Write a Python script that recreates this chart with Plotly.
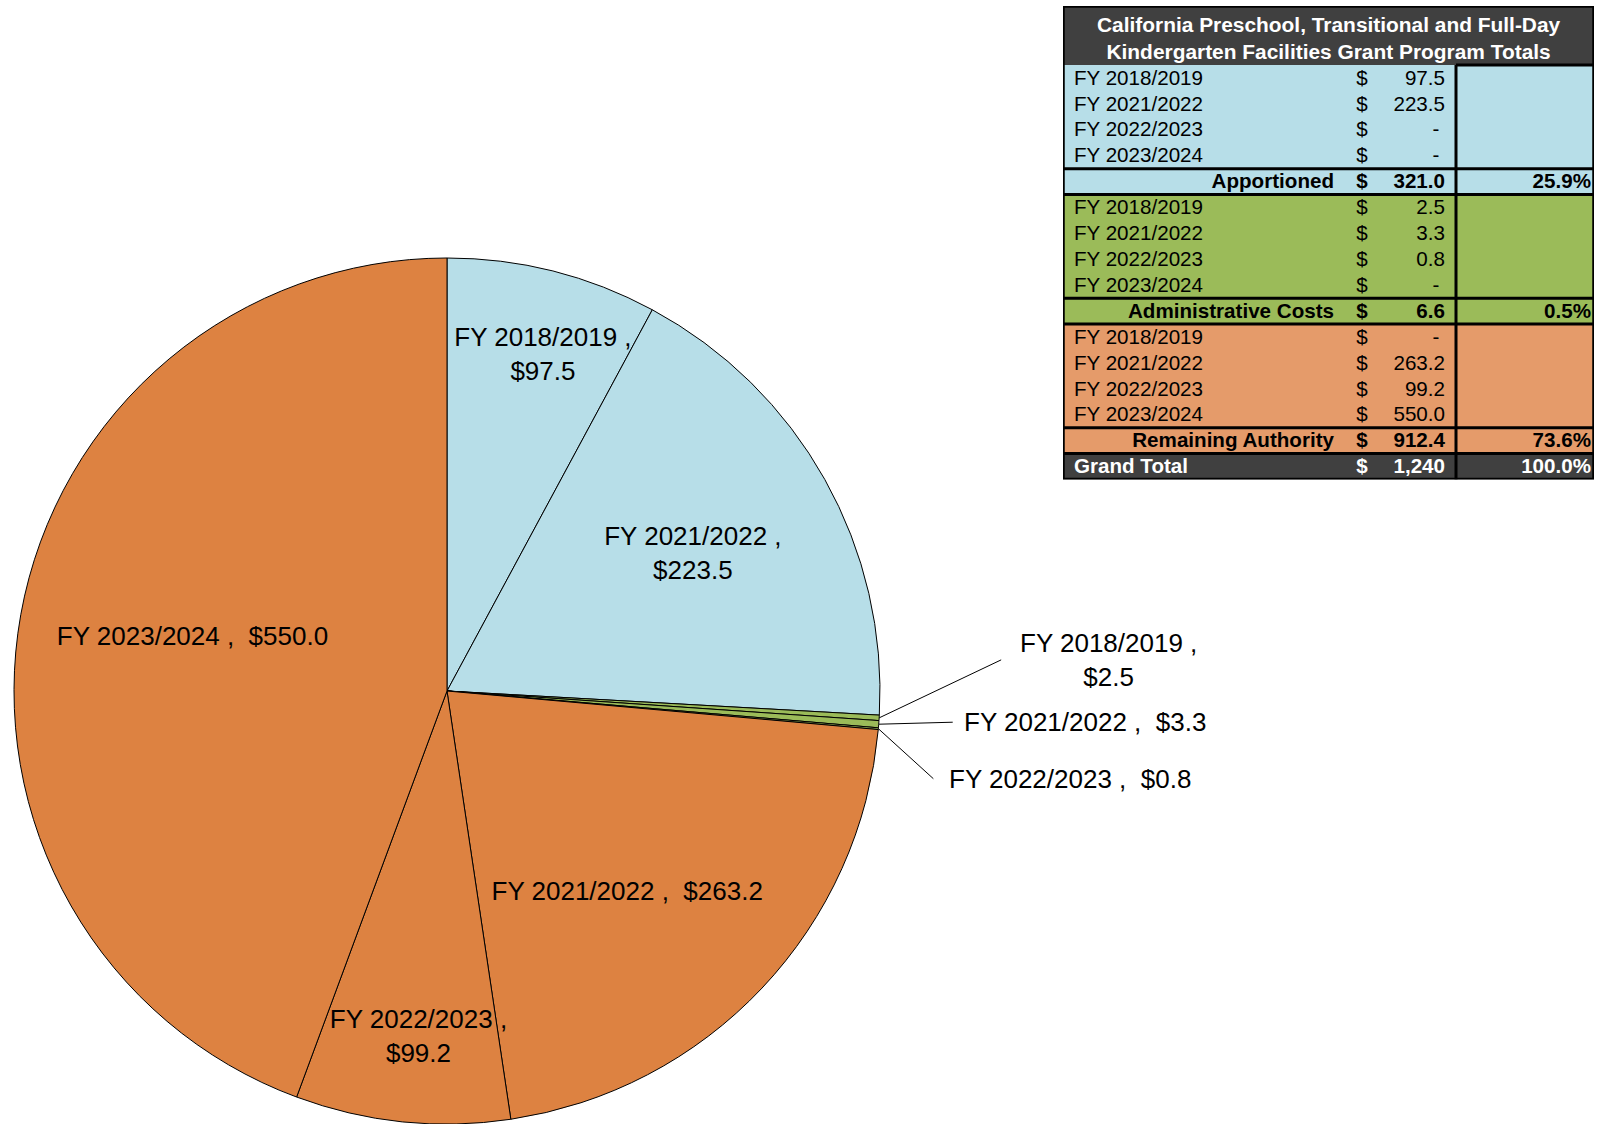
import math
import plotly.graph_objects as go

# ---------------- data ----------------
fiscal_years = ["FY 2018/2019", "FY 2021/2022", "FY 2022/2023", "FY 2023/2024"]
apportioned = [97.5, 223.5, 0.0, 0.0]
administrative_costs = [2.5, 3.3, 0.8, 0.0]
remaining_authority = [0.0, 263.2, 99.2, 550.0]
group_names = ["Apportioned", "Administrative Costs", "Remaining Authority"]
grand_total_label = "Grand Total"
table_title = "California Preschool, Transitional and Full-Day<br>Kindergarten Facilities Grant Program Totals"

# ---------------- styles ----------------
W, H = 1605, 1124
FONT = "Liberation Sans, Arial, sans-serif"
pie_colors = ["#B7DEE8", "#9BBB59", "#DD8241"]
table_colors = ["#B7DEE8", "#9BBB59", "#E59B6A"]
dark = "#404040"
pie_font = 26
table_font = 20.6
title_font = 20.9

groups = [apportioned, administrative_costs, remaining_authority]

# ---------------- pie ----------------
slice_ids, slice_vals, slice_cols, slice_fy = [], [], [], []
for g, vals in enumerate(groups):
    for fy, v in zip(fiscal_years, vals):
        if v > 0:
            slice_ids.append(f"{group_names[g]} {fy}")
            slice_vals.append(v)
            slice_cols.append(pie_colors[g])
            slice_fy.append(fy)

total = sum(slice_vals)
# label layout per slice: (two lines?, blank line before, blank line after, lead pad, trail pad)
label_layout = [
    (True, False, False, 3, 0),
    (True, False, False, 0, 0),
    (True, False, False, 0, 0),
    (False, False, False, 0, 0),
    (False, False, False, 0, 0),
    (False, True, False, 0, 4),
    (True, False, False, 2, 0),
    (False, False, True, 0, 11),
]
NB = "\u00a0"
slice_text = []
for fy, v, (tl, before, after, lead, trail) in zip(slice_fy, slice_vals, label_layout):
    l1 = f"{fy} ,"
    l2 = f"${v:.1f}"
    if tl:
        t = NB * lead + l1 + NB * trail + "<br>" + NB * lead + l2 + NB * trail
    else:
        t = NB * lead + l1 + NB + NB + l2 + NB * trail
    if before:
        t = NB + "<br>" + t
    if after:
        t = t + "<br>" + NB
    slice_text.append(t)
# plain label text for the leader-line labels
plain_text = [f"{fy} ,{'<br>' if lay[0] else NB + NB}${v:.1f}"
              for fy, v, lay in zip(slice_fy, slice_vals, label_layout)]
is_small = [v / total < 0.01 for v in slice_vals]
textpos = ["none" if s else "inside" for s in is_small]

dom_x = [14 / W, 880 / W]
dom_y = [0.0, 1 - 258 / H]

fig = go.Figure()
fig.add_trace(go.Pie(
    labels=slice_ids, values=slice_vals, text=slice_text,
    texttemplate="%{text}", textposition=textpos,
    insidetextorientation="horizontal",
    sort=False, direction="clockwise", rotation=0,
    marker=dict(colors=slice_cols, line=dict(color="black", width=1)),
    textfont=dict(family=FONT, size=pie_font, color="black"),
    insidetextfont=dict(family=FONT, size=pie_font, color="black"),
    domain=dict(x=dom_x, y=dom_y),
    showlegend=False, hoverinfo="skip",
))

# leader-line labels for the tiny slices, anchored at the slice edge
cx = (dom_x[0] + dom_x[1]) / 2 * W
cy = (1 - (dom_y[0] + dom_y[1]) / 2) * H
r = min((dom_x[1] - dom_x[0]) * W, (dom_y[1] - dom_y[0]) * H) / 2
small_offsets = [(122, -58, 18), (74, -2, 10), (55, 50, 15)]
annotations = []
cum = 0.0
k = 0
for i, v in enumerate(slice_vals):
    a = (cum + v / 2) / total * 2 * math.pi
    cum += v
    if is_small[i]:
        px = cx + r * math.sin(a)
        py = cy - r * math.cos(a)
        ax, ay, pad = small_offsets[k]
        k += 1
        annotations.append(dict(
            x=px / W, y=1 - py / H, xref="paper", yref="paper",
            text=plain_text[i], showarrow=True, arrowhead=0, arrowwidth=1,
            arrowcolor="black", standoff=0, startstandoff=0,
            ax=ax, ay=ay, xanchor="left", yanchor="middle", borderpad=pad,
            align="center", font=dict(family=FONT, size=pie_font, color="black"),
        ))

# ---------------- table ----------------
def fmt(v):
    return "-" + NB if v == 0 else f"{v:,.1f}"

grand = sum(sum(g) for g in groups)
rows = []  # (label, value, pct, kind, color)
for g, vals in enumerate(groups):
    for fy, v in zip(fiscal_years, vals):
        rows.append((fy, fmt(v), "", "item", table_colors[g]))
    t = sum(vals)
    rows.append((group_names[g], f"{t:,.1f}", f"{t / grand * 100:.1f}%", "sum", table_colors[g]))
rows.append((grand_total_label, f"{grand:,.0f}", "100.0%", "grand", dark))

col_edges = [0, 283, 315, 393, 531]
header_h = 59 / 25.9
n = len(rows)

shapes = []
# background blocks: header, then runs of rows sharing a colour
shapes.append(dict(type="rect", xref="x", yref="y", x0=0, x1=col_edges[-1], y0=-header_h, y1=0,
                   fillcolor=dark, line=dict(width=0), layer="below"))
start = 0
for i in range(1, n + 1):
    if i == n or rows[i][4] != rows[start][4]:
        shapes.append(dict(type="rect", xref="x", yref="y", x0=0, x1=col_edges[-1], y0=start, y1=i,
                           fillcolor=rows[start][4], line=dict(width=0), layer="below"))
        start = i
for i, row in enumerate(rows):
    if row[3] == "sum" or (i + 1 < n and rows[i + 1][3] == "sum"):
        shapes.append(dict(type="line", xref="x", yref="y", x0=0, x1=col_edges[-1], y0=i + 1, y1=i + 1,
                           line=dict(color="black", width=3)))
shapes.append(dict(type="line", xref="x", yref="y", x0=col_edges[3], x1=col_edges[-1], y0=0, y1=0,
                   line=dict(color="black", width=3)))
shapes.append(dict(type="line", xref="x", yref="y", x0=col_edges[3], x1=col_edges[3], y0=0, y1=n,
                   line=dict(color="black", width=3)))
shapes.append(dict(type="rect", xref="x", yref="y", x0=0, x1=col_edges[-1], y0=-header_h, y1=n,
                   line=dict(color="black", width=3.5)))

ys = [i + 0.56 for i in range(n)]
def wrap(t, kind):
    return f"<b>{t}</b>" if kind != "item" else t
colors = ["white" if row[3] == "grand" else "black" for row in rows]

lab_x, lab_pos = [], []
for row in rows:
    if row[3] == "sum":
        lab_x.append(col_edges[1] - 12)
        lab_pos.append("middle left")
    else:
        lab_x.append(col_edges[0] + 11)
        lab_pos.append("middle right")
tf = dict(family=FONT, size=table_font, color=colors)
common = dict(mode="text", textfont=tf, showlegend=False, hoverinfo="skip", cliponaxis=False)
fig.add_trace(go.Scatter(x=lab_x, y=ys, text=[wrap(r_[0], r_[3]) for r_ in rows],
                         textposition=lab_pos, **common))
fig.add_trace(go.Scatter(x=[(col_edges[1] + col_edges[2]) / 2] * n, y=ys,
                         text=[wrap("$", r_[3]) for r_ in rows], textposition="middle center",
                         **common))
fig.add_trace(go.Scatter(x=[col_edges[3] - 11] * n, y=ys,
                         text=[wrap(r_[1], r_[3]) for r_ in rows], textposition="middle left",
                         **common))
fig.add_trace(go.Scatter(x=[col_edges[4] - 3] * n, y=ys,
                         text=[wrap(r_[2], r_[3]) if r_[2] else "" for r_ in rows],
                         textposition="middle left", **common))

annotations.append(dict(
    x=col_edges[-1] / 2, y=-header_h / 2 + 0.1, xref="x", yref="y", showarrow=False,
    text=f"<b>{table_title}</b>", align="center",
    font=dict(family=FONT, size=title_font, color="white"),
))

fig.update_layout(
    width=W, height=H, margin=dict(l=0, r=0, t=0, b=0),
    paper_bgcolor="white", plot_bgcolor="rgba(0,0,0,0)",
    xaxis=dict(domain=[1063 / W, 1594 / W], range=[col_edges[0], col_edges[-1]], visible=False,
               fixedrange=True),
    yaxis=dict(domain=[1 - 479.5 / H, 1 - 6 / H], range=[n, -header_h], visible=False,
               fixedrange=True),
    uniformtext=dict(minsize=pie_font, mode="show"),
    shapes=shapes, annotations=annotations,
    showlegend=False,
)

fig.write_html("out.html", config={"displayModeBar": False},
               post_script="document.body.style.margin='0';document.body.style.overflow='hidden';")
